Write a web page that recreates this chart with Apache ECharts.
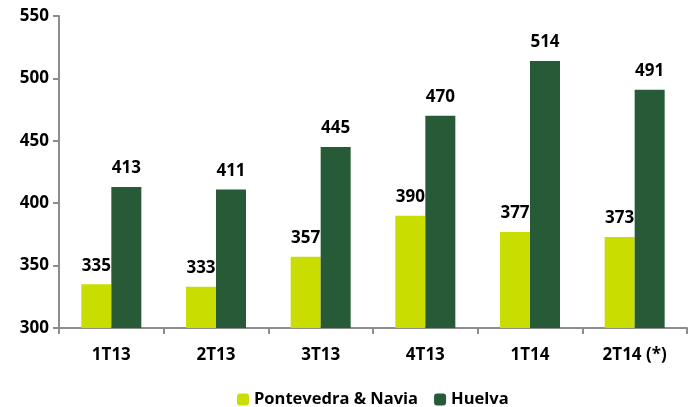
<!DOCTYPE html>
<html>
<head>
<meta charset="utf-8">
<script src="https://cdn.jsdelivr.net/npm/echarts@6/dist/echarts.min.js"></script>
<style>
  html, body { margin: 0; padding: 0; background: #fff; }
  #chart { width: 690px; height: 407px; }
</style>
</head>
<body>
<div id="chart"></div>
<script>
var categories = ['1T13', '2T13', '3T13', '4T13', '1T14', '2T14 (*)'];
var pontevedra = [335, 333, 357, 390, 377, 373];
var huelva = [413, 411, 445, 470, 514, 491];

var font = '"Open Sans", Lato, sans-serif';
var labelStyle = {
    show: true,
    position: 'top',
    color: '#000',
    fontFamily: font,
    fontWeight: 'bold',
    fontSize: 17,
    distance: 10
};

var myChart = echarts.init(document.getElementById('chart'));
myChart.setOption({
    animation: false,
    grid: { left: 59, right: 3, top: 16, bottom: 79 },
    legend: {
        top: 386,
        left: 232,
        itemWidth: 12,
        itemHeight: 12,
        itemGap: 16,
        textStyle: { fontFamily: font, fontWeight: 'bold', fontSize: 16.5, color: '#000' },
        data: ['Pontevedra & Navia', 'Huelva']
    },
    xAxis: {
        type: 'category',
        data: categories,
        axisLine: { lineStyle: { color: '#8c8c8c', width: 2 } },
        axisTick: { show: true, length: 6, lineStyle: { color: '#8c8c8c', width: 2 } },
        axisLabel: { color: '#000', fontFamily: font, fontWeight: 'bold', fontSize: 17, margin: 19 }
    },
    yAxis: {
        type: 'value',
        min: 300,
        max: 550,
        interval: 50,
        splitLine: { show: false },
        axisLine: { show: true, lineStyle: { color: '#8c8c8c', width: 2 } },
        axisTick: { show: true, length: 6, lineStyle: { color: '#8c8c8c', width: 2 } },
        axisLabel: { color: '#000', fontFamily: font, fontWeight: 'bold', fontSize: 17, margin: 10 }
    },
    series: [
        {
            name: 'Pontevedra & Navia',
            type: 'bar',
            data: pontevedra,
            barWidth: 30,
            barGap: '0%',
            itemStyle: { color: '#cadd00' },
            label: labelStyle
        },
        {
            name: 'Huelva',
            type: 'bar',
            data: huelva,
            barWidth: 30,
            itemStyle: { color: '#275b38' },
            label: labelStyle
        }
    ]
});
</script>
</body>
</html>
